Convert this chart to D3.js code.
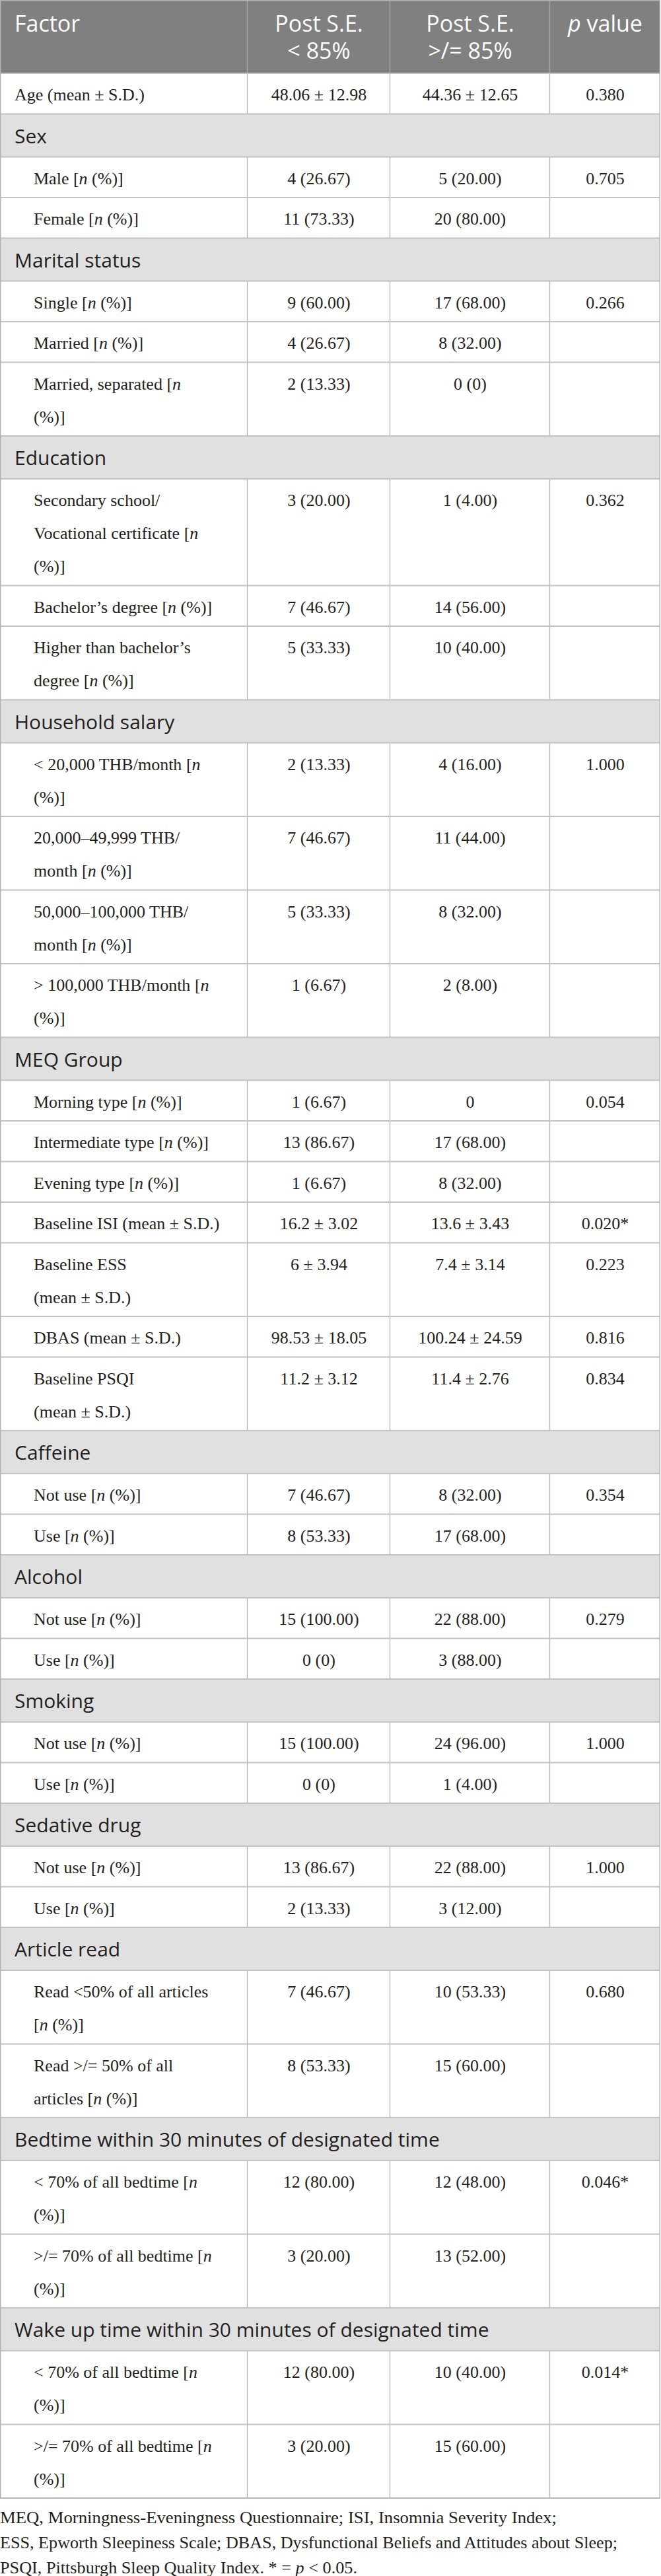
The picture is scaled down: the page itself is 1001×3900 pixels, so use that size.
<!DOCTYPE html>
<html lang="en">
<head>
<meta charset="UTF-8">
<title>Factors by post sleep efficiency</title>
<style>
  body { margin: 0; background: #ffffff; }
  svg { display: block; }
  .head { font-family: 'Open Sans', 'Noto Sans', sans-serif; font-size: 34px; fill: #ffffff; }
  .group { font-family: 'Open Sans', 'Noto Sans', sans-serif; font-size: 30px; fill: #231f20; }
  .cell { font-family: 'Liberation Serif', 'DejaVu Serif', serif; font-size: 26px; fill: #231f20; }
  .note { font-family: 'Liberation Serif', 'DejaVu Serif', serif; font-size: 25px; fill: #231f20; }
</style>
</head>
<body>
<div id="table"></div>
<script src="https://d3js.org/d3.v7.min.js"></script>
<script>
// column headers ("|" = line break)
const headers = ["Factor", "Post S.E.|< 85%", "Post S.E.|>/= 85%", "p value"];

// row labels; rows starting with "#" are group rows, "|" = line break
const factors = [
  "Age (mean ± S.D.)",
  "#Sex", "Male [n (%)]", "Female [n (%)]",
  "#Marital status", "Single [n (%)]", "Married [n (%)]", "Married, separated [n|(%)]",
  "#Education", "Secondary school/|Vocational certificate [n|(%)]", "Bachelor’s degree [n (%)]", "Higher than bachelor’s|degree [n (%)]",
  "#Household salary", "< 20,000 THB/month [n|(%)]", "20,000–49,999 THB/|month [n (%)]", "50,000–100,000 THB/|month [n (%)]", "> 100,000 THB/month [n|(%)]",
  "#MEQ Group", "Morning type [n (%)]", "Intermediate type [n (%)]", "Evening type [n (%)]",
  "Baseline ISI (mean ± S.D.)", "Baseline ESS|(mean ± S.D.)", "DBAS (mean ± S.D.)", "Baseline PSQI|(mean ± S.D.)",
  "#Caffeine", "Not use [n (%)]", "Use [n (%)]",
  "#Alcohol", "Not use [n (%)]", "Use [n (%)]",
  "#Smoking", "Not use [n (%)]", "Use [n (%)]",
  "#Sedative drug", "Not use [n (%)]", "Use [n (%)]",
  "#Article read", "Read <50% of all articles|[n (%)]", "Read >/= 50% of all|articles [n (%)]",
  "#Bedtime within 30 minutes of designated time", "< 70% of all bedtime [n|(%)]", ">/= 70% of all bedtime [n|(%)]",
  "#Wake up time within 30 minutes of designated time", "< 70% of all bedtime [n|(%)]", ">/= 70% of all bedtime [n|(%)]"
];

// Post S.E. < 85%
const belowValues = [
  "48.06 ± 12.98",
  null, "4 (26.67)", "11 (73.33)",
  null, "9 (60.00)", "4 (26.67)", "2 (13.33)",
  null, "3 (20.00)", "7 (46.67)", "5 (33.33)",
  null, "2 (13.33)", "7 (46.67)", "5 (33.33)", "1 (6.67)",
  null, "1 (6.67)", "13 (86.67)", "1 (6.67)",
  "16.2 ± 3.02", "6 ± 3.94", "98.53 ± 18.05", "11.2 ± 3.12",
  null, "7 (46.67)", "8 (53.33)",
  null, "15 (100.00)", "0 (0)",
  null, "15 (100.00)", "0 (0)",
  null, "13 (86.67)", "2 (13.33)",
  null, "7 (46.67)", "8 (53.33)",
  null, "12 (80.00)", "3 (20.00)",
  null, "12 (80.00)", "3 (20.00)"
];

// Post S.E. >/= 85%
const aboveValues = [
  "44.36 ± 12.65",
  null, "5 (20.00)", "20 (80.00)",
  null, "17 (68.00)", "8 (32.00)", "0 (0)",
  null, "1 (4.00)", "14 (56.00)", "10 (40.00)",
  null, "4 (16.00)", "11 (44.00)", "8 (32.00)", "2 (8.00)",
  null, "0", "17 (68.00)", "8 (32.00)",
  "13.6 ± 3.43", "7.4 ± 3.14", "100.24 ± 24.59", "11.4 ± 2.76",
  null, "8 (32.00)", "17 (68.00)",
  null, "22 (88.00)", "3 (88.00)",
  null, "24 (96.00)", "1 (4.00)",
  null, "22 (88.00)", "3 (12.00)",
  null, "10 (53.33)", "15 (60.00)",
  null, "12 (48.00)", "13 (52.00)",
  null, "10 (40.00)", "15 (60.00)"
];

// p values
const pValues = [
  "0.380",
  null, "0.705", "",
  null, "0.266", "", "",
  null, "0.362", "", "",
  null, "1.000", "", "", "",
  null, "0.054", "", "",
  "0.020*", "0.223", "0.816", "0.834",
  null, "0.354", "",
  null, "0.279", "",
  null, "1.000", "",
  null, "1.000", "",
  null, "0.680", "",
  null, "0.046*", "",
  null, "0.014*", ""
];

const footnotes = [
  "MEQ, Morningness-Eveningness Questionnaire; ISI, Insomnia Severity Index;",
  "ESS, Epworth Sleepiness Scale; DBAS, Dysfunctional Beliefs and Attitudes about Sleep;",
  "PSQI, Pittsburgh Sleep Quality Index. * = p < 0.05."
];

// layout
const width = 1001, height = 3900;
const colWidths = [375, 216, 242, 167];
const colEdges = [0, ...d3.cumsum(colWidths)];
const headerH = 111, groupH = 65, lineH = 50, padH = 11.5;

const rows = factors.map((f, i) => {
  const group = f.startsWith("#");
  const lines = (group ? f.slice(1) : f).split("|");
  return {
    i, group, lines,
    h: group ? groupH : padH + lineH * lines.length,
    vals: [belowValues[i], aboveValues[i], pValues[i]]
  };
});
const tops = [headerH, ...d3.cumsum(rows, d => d.h).map(v => v + headerH)];
rows.forEach((r, k) => r.y = tops[k]);
const tableBottom = tops[tops.length - 1];

const x = d3.scaleOrdinal().domain(d3.range(5)).range(colEdges);
const xMid = c => (x(c) + x(c + 1)) / 2;
const y = d3.scaleOrdinal().domain(rows.map(r => r.i)).range(rows.map(r => r.y));

const svg = d3.select("#table").append("svg")
  .attr("width", width).attr("height", height);

// backgrounds
svg.append("rect").attr("x", 0).attr("y", 0)
  .attr("width", x(4)).attr("height", headerH).attr("fill", "#7f807f");
svg.append("g").selectAll("rect")
  .data(rows.filter(r => r.group)).enter().append("rect")
  .attr("x", 0).attr("y", d => y(d.i))
  .attr("width", x(4)).attr("height", d => d.h)
  .attr("fill", "#e1e0e1");

// vertical rules (not through group rows)
const vLines = svg.append("g").attr("stroke", "#b3b3b3").attr("stroke-width", 1.3);
[1, 2, 3].forEach(c => {
  vLines.append("line").attr("x1", x(c) - 0.5).attr("x2", x(c) - 0.5)
    .attr("y1", 0).attr("y2", headerH).attr("stroke", "#a6a7a6");
  rows.filter(r => !r.group).forEach(r => {
    vLines.append("line").attr("x1", x(c) - 0.5).attr("x2", x(c) - 0.5)
      .attr("y1", y(r.i)).attr("y2", y(r.i) + r.h);
  });
});

// horizontal rules
svg.append("g").selectAll("line")
  .data(tops).enter().append("line")
  .attr("x1", 0).attr("x2", x(4))
  .attr("y1", d => d).attr("y2", d => d)
  .attr("stroke", "#c2c2c2").attr("stroke-width", 2);

// outer border
svg.append("rect").attr("x", 0.75).attr("y", 0.75)
  .attr("width", x(4) - 1.5).attr("height", tableBottom - 0.75)
  .attr("fill", "none").attr("stroke", "#b3b3b3").attr("stroke-width", 1.5);

// header text
const head = svg.append("g").attr("class", "head");
headers.forEach((h, c) => {
  const t = head.append("text")
    .attr("x", c === 0 ? 22 : xMid(c))
    .attr("text-anchor", c === 0 ? "start" : "middle");
  h.split("|").forEach((ln, k) => {
    const ts = t.append("tspan").attr("x", c === 0 ? 22 : xMid(c)).attr("y", 48 + k * 41);
    if (ln.startsWith("p ")) {
      ts.append("tspan").attr("font-style", "italic").text("p");
      ts.append("tspan").text(ln.slice(1));
    } else ts.text(ln);
  });
});

// write text with italic "n" after "["
function richLine(sel, str) {
  const parts = str.split("[n");
  parts.forEach((p, k) => {
    if (k > 0) {
      sel.append("tspan").text("[");
      sel.append("tspan").attr("font-style", "italic").text("n");
    }
    if (p) sel.append("tspan").text(p);
  });
}

// group labels
svg.append("g").attr("class", "group").selectAll("text")
  .data(rows.filter(r => r.group)).enter().append("text")
  .attr("x", 22).attr("y", d => y(d.i) + 44)
  .text(d => d.lines[0]);

// data rows
const body = svg.append("g").attr("class", "cell");
rows.filter(r => !r.group).forEach(r => {
  const lx = r.i === 0 ? 22 : 51;
  r.lines.forEach((ln, k) => {
    const t = body.append("text").attr("x", lx).attr("y", y(r.i) + 41 + k * lineH);
    richLine(t, ln);
  });
  r.vals.forEach((v, c) => {
    if (!v) return;
    body.append("text").attr("x", xMid(c + 1)).attr("y", y(r.i) + 41)
      .attr("text-anchor", "middle").text(v);
  });
});

// footnote
const note = svg.append("g").attr("class", "note");
const noteWidths = [843, 935, 541];
footnotes.forEach((f, k) => {
  const t = note.append("text").attr("x", 0).attr("y", tableBottom + 38 + k * 38)
    .attr("textLength", noteWidths[k]).attr("lengthAdjust", "spacingAndGlyphs");
  const m = f.split(" p ");
  if (m.length > 1) {
    t.append("tspan").text(m[0] + " ");
    t.append("tspan").attr("font-style", "italic").text("p");
    t.append("tspan").text(" " + m[1]);
  } else t.text(f);
});
</script>
</body>
</html>
